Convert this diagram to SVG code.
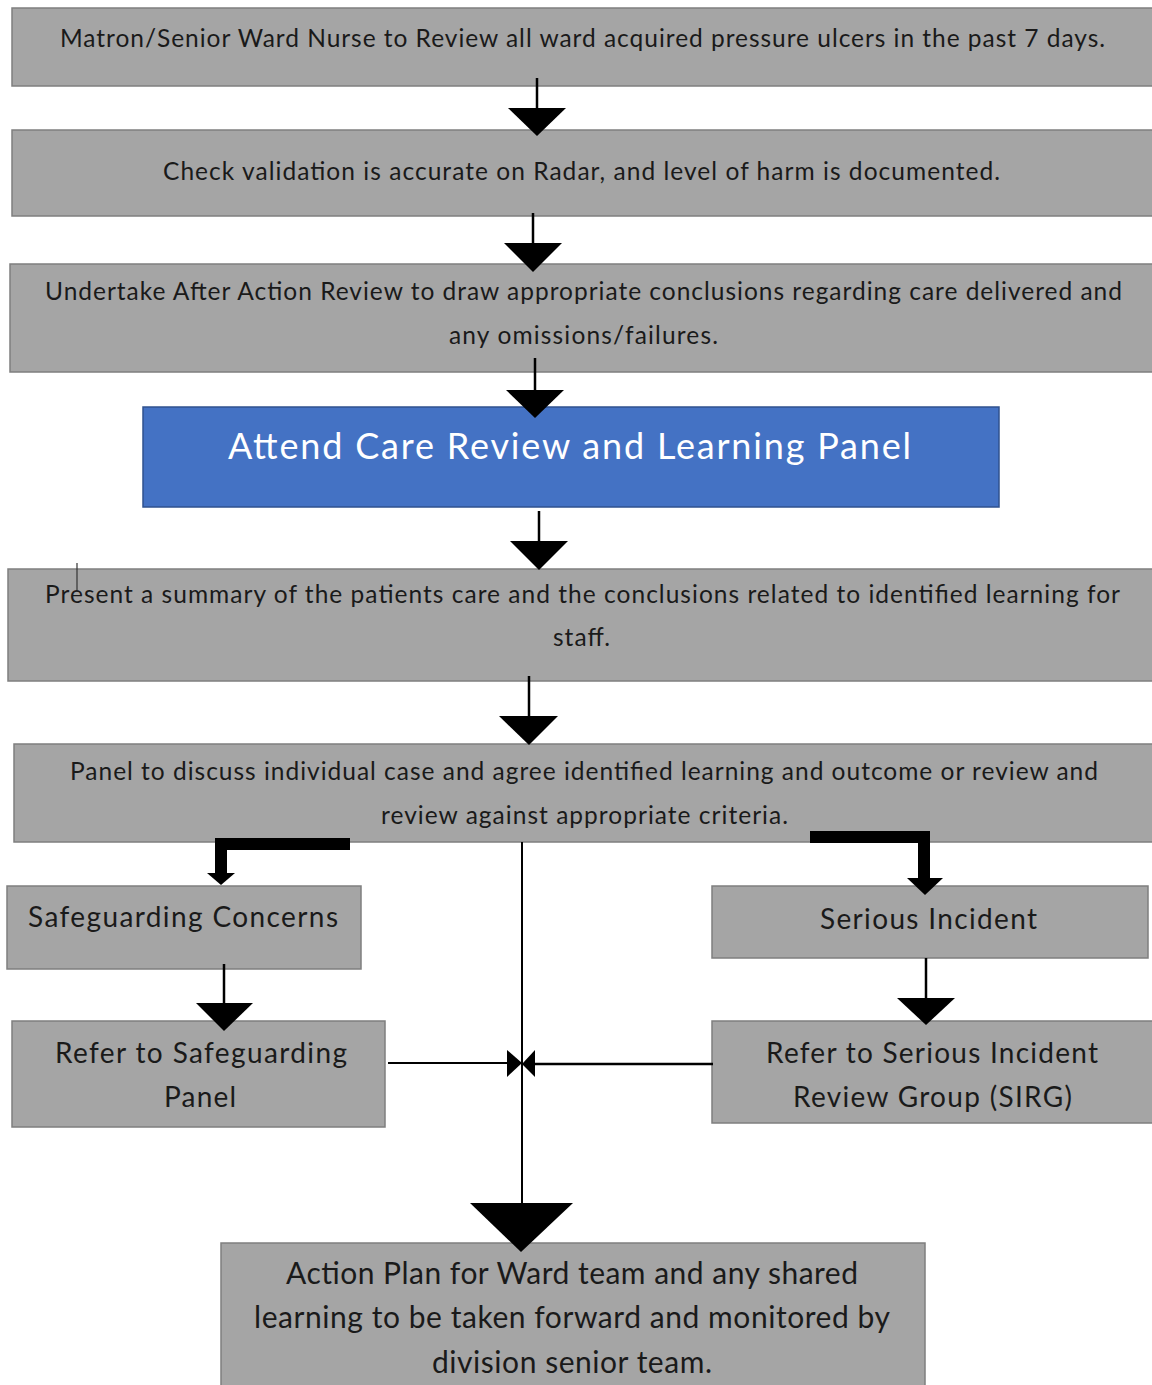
<svg xmlns="http://www.w3.org/2000/svg" width="1152" height="1385" viewBox="0 0 1152 1385">
<style>
.box{fill:#a5a5a5;stroke:#7f7f7f;stroke-width:1.5}
.blue{fill:#4472c4;stroke:#2f528f;stroke-width:1.5}
.t{font-family:Lato,"Open Sans","Liberation Sans",sans-serif;fill:#1a1a1a;text-anchor:middle}
.s{font-size:24.5px}
.m{font-size:28px}
.l{font-size:30px}
.w{font-size:36px;fill:#ffffff}
.ln{stroke:#000;stroke-width:2.5;fill:none}
.thin{stroke:#000;stroke-width:2;fill:none}
.thick{stroke:#000;stroke-width:12;fill:none}
.hd{fill:#000}
</style>
<rect width="1152" height="1385" fill="#ffffff"/>
<g id="n1">
  <rect class="box" x="12" y="8" width="1145" height="78"/>
  <text class="t s" x="582.5" y="47" textLength="1045" lengthAdjust="spacing">Matron/Senior Ward Nurse to Review all ward acquired pressure ulcers in the past 7 days.</text>
</g>
<g id="n2">
  <rect class="box" x="12" y="130" width="1145" height="86"/>
  <text class="t s" x="581.5" y="180" textLength="837" lengthAdjust="spacing">Check validation is accurate on Radar, and level of harm is documented.</text>
</g>
<g id="n3">
  <rect class="box" x="10" y="264" width="1147" height="108"/>
  <text class="t s" x="583.5" y="300" textLength="1077" lengthAdjust="spacing">Undertake After Action Review to draw appropriate conclusions regarding care delivered and</text>
  <text class="t s" x="583.5" y="344" textLength="269" lengthAdjust="spacing">any omissions/failures.</text>
</g>
<g id="n4">
  <rect class="blue" x="143" y="407" width="856" height="100"/>
  <text class="t w" x="569.5" y="459" textLength="683" lengthAdjust="spacing">Attend Care Review and Learning Panel</text>
</g>
<g id="n5">
  <rect class="box" x="8" y="569" width="1149" height="112"/>
  <text class="t s" x="582.5" y="603" textLength="1075" lengthAdjust="spacing">Present a summary of the patients care and the conclusions related to identified learning for</text>
  <text class="t s" x="581.5" y="646" textLength="57" lengthAdjust="spacing">staff.</text>
</g>
<g id="n6">
  <rect class="box" x="14" y="744" width="1143" height="98"/>
  <text class="t s" x="584" y="780" textLength="1028" lengthAdjust="spacing">Panel to discuss individual case and agree identified learning and outcome or review and</text>
  <text class="t s" x="584.5" y="824" textLength="407" lengthAdjust="spacing">review against appropriate criteria.</text>
</g>
<g id="n7">
  <rect class="box" x="7" y="886" width="354" height="83"/>
  <text class="t m" x="183" y="927" textLength="310" lengthAdjust="spacing">Safeguarding Concerns</text>
</g>
<g id="n8">
  <rect class="box" x="712" y="886" width="436" height="72"/>
  <text class="t m" x="928.5" y="929" textLength="217" lengthAdjust="spacing">Serious Incident</text>
</g>
<g id="n9">
  <rect class="box" x="12" y="1021" width="373" height="106"/>
  <text class="t m" x="201" y="1063" textLength="292" lengthAdjust="spacing">Refer to Safeguarding</text>
  <text class="t m" x="200" y="1107" textLength="72" lengthAdjust="spacing">Panel</text>
</g>
<g id="n10">
  <rect class="box" x="712" y="1021" width="445" height="102"/>
  <text class="t m" x="932" y="1063" textLength="332" lengthAdjust="spacing">Refer to Serious Incident</text>
  <text class="t m" x="932.5" y="1107" textLength="279" lengthAdjust="spacing">Review Group (SIRG)</text>
</g>
<g id="n11">
  <rect class="box" x="221" y="1243" width="704" height="150"/>
  <text class="t l" x="572" y="1284" textLength="572" lengthAdjust="spacing">Action Plan for Ward team and any shared</text>
  <text class="t l" x="572" y="1328" textLength="636" lengthAdjust="spacing">learning to be taken forward and monitored by</text>
  <text class="t l" x="572" y="1373" textLength="280" lengthAdjust="spacing">division senior team.</text>
</g>
<g id="connectors">
  <line class="ln" x1="537" y1="78" x2="537" y2="110"/>
  <polygon class="hd" points="508,108 566,108 537,136"/>
  <line class="ln" x1="533" y1="213" x2="533" y2="245"/>
  <polygon class="hd" points="504,243 562,243 533,272"/>
  <line class="ln" x1="535" y1="358" x2="535" y2="392"/>
  <polygon class="hd" points="506,390 564,390 535,418"/>
  <line class="ln" x1="539" y1="511" x2="539" y2="543"/>
  <polygon class="hd" points="510,541 568,541 539,570"/>
  <line class="ln" x1="529" y1="676" x2="529" y2="718"/>
  <polygon class="hd" points="499,716 558,716 529,745"/>
  <polyline class="thick" points="350,844 221,844 221,874"/>
  <polygon class="hd" points="207,873 235,873 221,885"/>
  <polyline class="thick" points="810,837 924,837 924,879"/>
  <polygon class="hd" points="907,878 943,878 925,895"/>
  <line class="ln" x1="224" y1="964" x2="224" y2="1005"/>
  <polygon class="hd" points="196,1003 253,1003 224,1031"/>
  <line class="ln" x1="926" y1="958" x2="926" y2="1000"/>
  <polygon class="hd" points="897,998 955,998 926,1025"/>
  <line class="thin" x1="522" y1="842" x2="522" y2="1206"/>
  <polygon class="hd" points="470,1203 573,1203 521,1252"/>
  <line class="thin" x1="388" y1="1063" x2="509" y2="1063"/>
  <polygon class="hd" points="507,1050 522,1063 507,1077"/>
  <line class="ln" x1="533" y1="1064" x2="713" y2="1064"/>
  <polygon class="hd" points="535,1050 522,1064 535,1077"/>
  <line stroke="#333" stroke-width="1.2" x1="77" y1="563" x2="77" y2="590"/>
</g>
</svg>
